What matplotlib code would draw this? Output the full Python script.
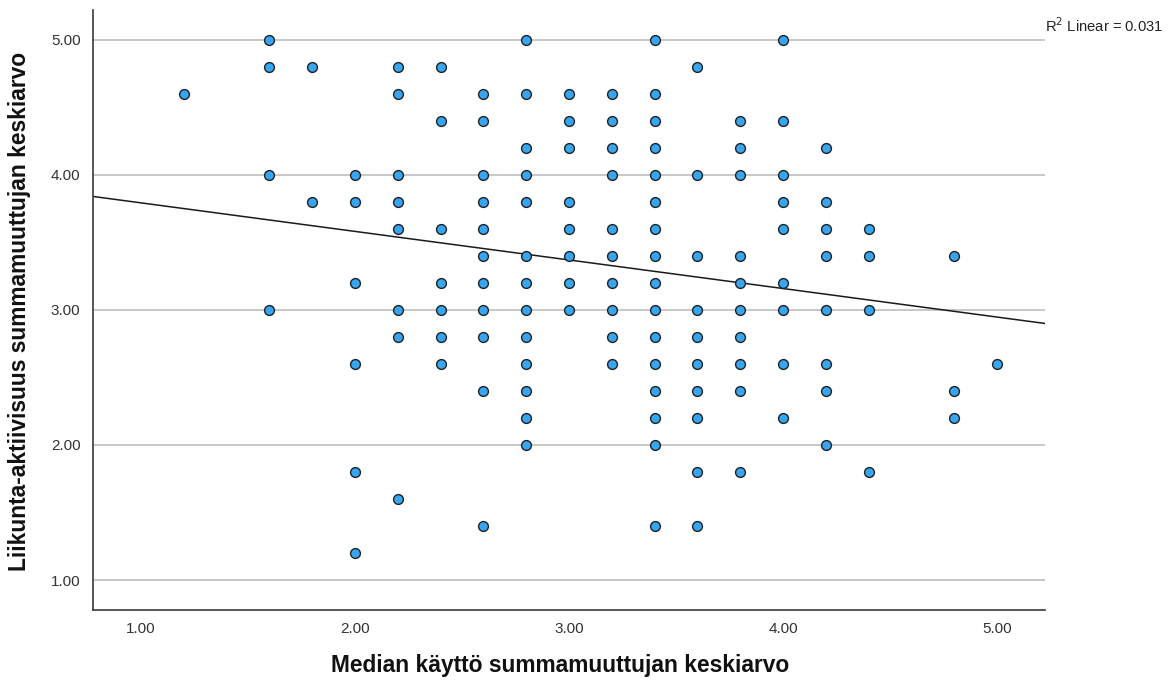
import matplotlib.pyplot as plt

# ==========================================================
# Data
# ==========================================================

# x value of each column and the y values found in that column
x_columns = [1.2, 1.6, 1.8, 2.0, 2.2, 2.4, 2.6, 2.8, 3.0, 3.2,
             3.4, 3.6, 3.8, 4.0, 4.2, 4.4, 4.8, 5.0]

y_columns = [
    [4.6],
    [5.0, 4.8, 4.0, 3.0],
    [4.8, 3.8],
    [4.0, 3.8, 3.2, 2.6, 1.8, 1.2],
    [4.8, 4.6, 4.0, 3.8, 3.6, 3.0, 2.8, 1.6],
    [4.8, 4.4, 3.6, 3.2, 3.0, 2.8, 2.6],
    [4.6, 4.4, 4.0, 3.8, 3.6, 3.4, 3.2, 3.0, 2.8, 2.4, 1.4],
    [5.0, 4.6, 4.2, 4.0, 3.8, 3.4, 3.2, 3.0, 2.8, 2.6, 2.4, 2.2, 2.0],
    [4.6, 4.4, 4.2, 3.8, 3.6, 3.4, 3.2, 3.0],
    [4.6, 4.4, 4.2, 4.0, 3.6, 3.4, 3.2, 3.0, 2.8, 2.6],
    [5.0, 4.6, 4.4, 4.2, 4.0, 3.8, 3.6, 3.4, 3.2, 3.0, 2.8, 2.6,
     2.4, 2.2, 2.0, 1.4],
    [4.8, 4.0, 3.4, 3.0, 2.8, 2.6, 2.4, 2.2, 1.8, 1.4],
    [4.4, 4.2, 4.0, 3.4, 3.2, 3.0, 2.8, 2.6, 2.4, 1.8],
    [5.0, 4.4, 4.0, 3.8, 3.6, 3.2, 3.0, 2.6, 2.2],
    [4.2, 3.8, 3.6, 3.4, 3.0, 2.6, 2.4, 2.0],
    [3.6, 3.4, 3.0, 1.8],
    [3.4, 2.4, 2.2],
    [2.6],
]

# fit line as drawn by SPSS
fit_intercept = 4.005
fit_slope = -0.2115
r_squared = 0.031

ticks = [1.0, 2.0, 3.0, 4.0, 5.0]

x_label = "Median käyttö summamuuttujan keskiarvo"
y_label = "Liikunta-aktiivisuus summamuuttujan keskiarvo"

# ==========================================================
# Plot
# ==========================================================

plt.rcParams["font.family"] = ["Liberation Sans", "DejaVu Sans"]

xs = []
ys = []
for x, col in zip(x_columns, y_columns):
    for y in col:
        xs.append(x)
        ys.append(y)

fig = plt.figure(figsize=(11.71, 6.93), dpi=100)
ax = fig.add_axes([0.0794, 0.1198, 0.8130, 0.8658])

x_min, x_max = 0.776, 5.224
y_min, y_max = 0.778, 5.222

for t in ticks:
    ax.axhline(t, color="#c4c4c4", linewidth=1.3, zorder=1)

line_x = [x_min, x_max]
line_y = [fit_intercept + fit_slope * v for v in line_x]
ax.plot(line_x, line_y, color="#1a1a1a", linewidth=1.1, zorder=2)

ax.scatter(xs, ys, s=50, color="#36a6f2", edgecolor="#202020",
           linewidth=1.0, zorder=3)

ax.set_xlim(x_min, x_max)
ax.set_ylim(y_min, y_max)

ax.set_xticks(ticks)
ax.set_yticks(ticks)
ax.set_xticklabels([f"{t:.2f}" for t in ticks])
ax.set_yticklabels([f"{t:.2f}" for t in ticks])
ax.tick_params(length=0, labelsize=11, colors="#333333", pad=9)

for side in ["top", "right"]:
    ax.spines[side].set_visible(False)
for side in ["left", "bottom"]:
    ax.spines[side].set_color("#3a3a3a")
    ax.spines[side].set_linewidth(1.2)

ax.set_xlabel(x_label, fontsize=16.4, fontweight="bold", color="#111111",
              va="center")
ax.set_ylabel(y_label, fontsize=16.4, fontweight="bold", color="#111111",
              va="center")
ax.xaxis.set_label_coords(0.491, -0.092)
ax.yaxis.set_label_coords(-0.077, 0.497)

fig.text(0.8925, 0.950, f"R$^2$ Linear = {r_squared:.3f}", fontsize=10.6,
         color="#222222", ha="left", va="bottom")

fig.savefig("out.png", dpi=100, facecolor="white")
